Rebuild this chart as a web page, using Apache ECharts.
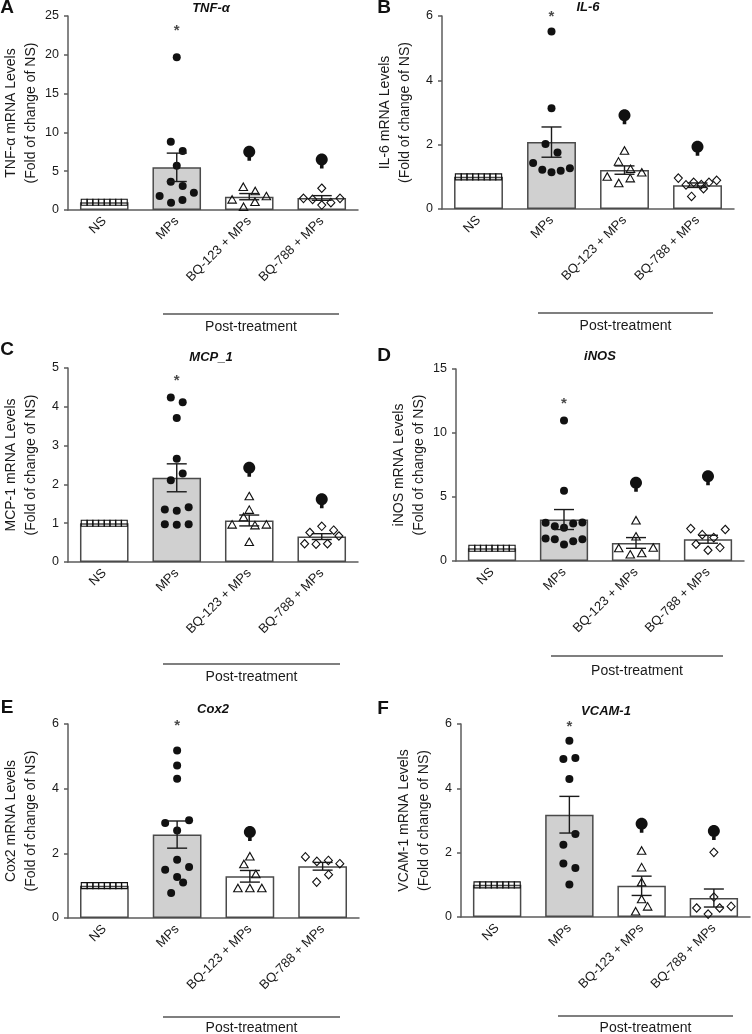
<!DOCTYPE html>
<html><head><meta charset="utf-8">
<script src="https://cdn.jsdelivr.net/npm/echarts@6/dist/echarts.min.js"></script>
<style>html,body{margin:0;padding:0;background:#fff}#c{width:752px;height:1034px}</style>
</head><body><div id="c"></div><script>
const categories = ['NS', 'MPs', 'BQ-123 + MPs', 'BQ-788 + MPs'];

// A: TNF-α
const tnfNS = [1, 1, 1, 1, 1, 1, 1, 1];
const tnfMPs = [19.7, 8.8, 7.6, 5.7, 3.65, 3.1, 1.8, 0.95, 1.29, 2.23];
const tnfBQ123 = [3.0, 2.45, 1.37, 0.43, 1.07, 1.8];
const tnfBQ788 = [2.8, 1.5, 1.37, 0.64, 0.95, 1.5];
const tnfMean = [1.0, 5.5, 1.72, 1.55];
const tnfSem = [0, 1.83, 0.4, 0.3];
const tnfSig = [null, null, 7.3, 6.3];
const tnfStar = 23.1;
const tnfTicks = [0, 25, 5];

// B: IL-6
const il6NS = [1, 1, 1, 1, 1, 1, 1, 1];
const il6MPs = [5.52, 3.13, 2.02, 1.76, 1.43, 1.22, 1.14, 1.19, 1.27];
const il6BQ123 = [1.82, 1.48, 1.25, 1.01, 0.81, 0.96, 1.14];
const il6BQ788 = [0.96, 0.75, 0.83, 0.76, 0.83, 0.89, 0.39, 0.63];
const il6Mean = [1.0, 2.08, 1.21, 0.74];
const il6Sem = [0, 0.47, 0.13, 0.07];
const il6Sig = [null, null, 2.87, 1.89];
const il6Star = 5.97;
const il6Ticks = [0, 6, 2];

// C: MCP-1
const mcpNS = [1, 1, 1, 1, 1, 1, 1, 1];
const mcpMPs = [4.24, 4.12, 3.71, 2.66, 2.11, 2.28, 1.35, 1.32, 1.41, 0.97, 0.96, 0.97];
const mcpBQ123 = [1.70, 1.35, 0.97, 1.16, 0.95, 0.97, 0.52];
const mcpBQ788 = [0.76, 0.92, 0.82, 0.47, 0.46, 0.47, 0.67];
const mcpMean = [1.0, 2.17, 1.07, 0.655];
const mcpSem = [0, 0.36, 0.14, 0.075];
const mcpSig = [null, null, 2.39, 1.58];
const mcpStar = 4.66;
const mcpTicks = [0, 5, 1];

// D: iNOS
const inosNS = [1, 1, 1, 1, 1, 1, 1, 1];
const inosMPs = [10.97, 5.49, 2.98, 2.72, 2.59, 2.93, 3.0, 1.75, 1.70, 1.28, 1.54, 1.70];
const inosBQ123 = [3.19, 1.93, 1.02, 0.52, 0.63, 1.05];
const inosBQ788 = [2.53, 2.06, 1.83, 2.46, 1.31, 0.84, 1.05];
const inosMean = [1.0, 3.24, 1.41, 1.7];
const inosSem = [0, 0.78, 0.42, 0.31];
const inosSig = [null, null, 6.0, 6.5];
const inosStar = 12.28;
const inosTicks = [0, 15, 5];

// E: Cox2
const coxNS = [1, 1, 1, 1, 1, 1, 1, 1];
const coxMPs = [5.18, 4.72, 4.31, 2.94, 2.71, 3.02, 1.80, 1.49, 1.27, 1.58, 0.77, 1.10];
const coxBQ123 = [1.91, 1.67, 1.36, 0.93, 0.93, 0.93];
const coxBQ788 = [1.89, 1.75, 1.78, 1.68, 1.11, 1.34];
const coxMean = [1.0, 2.58, 1.29, 1.6];
const coxSem = [0, 0.42, 0.18, 0.12];
const coxSig = [null, null, 2.61, null];
const coxStar = 5.93;
const coxTicks = [0, 6, 2];

// F: VCAM-1
const vcamNS = [1, 1, 1, 1, 1, 1, 1, 1];
const vcamMPs = [5.48, 4.91, 4.94, 4.29, 2.25, 2.58, 1.66, 1.52, 1.01];
const vcamBQ123 = [2.07, 1.55, 1.09, 0.56, 0.18, 0.33];
const vcamBQ788 = [2.01, 0.62, 0.28, 0.09, 0.28, 0.33];
const vcamMean = [1.0, 3.18, 0.97, 0.59];
const vcamSem = [0, 0.57, 0.30, 0.28];
const vcamSig = [null, null, 2.85, 2.63];
const vcamStar = 5.9;
const vcamTicks = [0, 6, 2];

const FONT = "'Liberation Sans', Arial, sans-serif";
const TXT = '#1a1a1a';
const AX = '#5c5c5c';

const panels = [
  {letter:'A', title:'TNF-α', yName:'TNF-α mRNA Levels', grid:{left:66, top:16, width:292, height:194},
   groups:[tnfNS, tnfMPs, tnfBQ123, tnfBQ788], mean:tnfMean, sem:tnfSem, sig:tnfSig, star:tnfStar, ticks:tnfTicks,
   letterPos:[7, 8], titlePos:[211, 8], post:{x1:163, x2:339, y:314, ty:327}},
  {letter:'B', title:'IL-6', yName:'IL-6 mRNA Levels', grid:{left:442, top:16, width:292, height:193},
   groups:[il6NS, il6MPs, il6BQ123, il6BQ788], mean:il6Mean, sem:il6Sem, sig:il6Sig, star:il6Star, ticks:il6Ticks,
   letterPos:[384, 8], titlePos:[588, 7], post:{x1:538, x2:713, y:313, ty:326}},
  {letter:'C', title:'MCP_1', yName:'MCP-1 mRNA Levels', grid:{left:66, top:368, width:292, height:194},
   groups:[mcpNS, mcpMPs, mcpBQ123, mcpBQ788], mean:mcpMean, sem:mcpSem, sig:mcpSig, star:mcpStar, ticks:mcpTicks,
   letterPos:[7, 350], titlePos:[211, 357], post:{x1:163, x2:340, y:664, ty:677}},
  {letter:'D', title:'iNOS', yName:'iNOS mRNA Levels', grid:{left:456, top:369, width:288, height:192},
   groups:[inosNS, inosMPs, inosBQ123, inosBQ788], mean:inosMean, sem:inosSem, sig:inosSig, star:inosStar, ticks:inosTicks,
   letterPos:[384, 356], titlePos:[600, 356], post:{x1:551, x2:723, y:656, ty:671}},
  {letter:'E', title:'Cox2', yName:'Cox2 mRNA Levels', grid:{left:67, top:724, width:292, height:194},
   groups:[coxNS, coxMPs, coxBQ123, coxBQ788], mean:coxMean, sem:coxSem, sig:coxSig, star:coxStar, ticks:coxTicks,
   letterPos:[7, 708], titlePos:[213, 709], post:{x1:163, x2:340, y:1017, ty:1028}},
  {letter:'F', title:'VCAM-1', yName:'VCAM-1 mRNA Levels', grid:{left:461, top:724, width:289, height:193},
   groups:[vcamNS, vcamMPs, vcamBQ123, vcamBQ788], mean:vcamMean, sem:vcamSem, sig:vcamSig, star:vcamStar, ticks:vcamTicks,
   letterPos:[383, 709], titlePos:[606, 711], post:{x1:558, x2:733, y:1016, ty:1028}}
];

// beeswarm-like row layout computed from values and axis scale
function swarm(values, pxPerUnit, catPx, idx) {
  const order = values.map((v, i) => i).sort((a, b) => values[a] - values[b] || a - b);
  const rows = []; let cur = null;
  order.forEach(i => {
    if (cur && (values[i] - values[cur[0]]) * pxPerUnit <= 11) cur.push(i);
    else { cur = [i]; rows.push(cur); }
  });
  const out = [];
  rows.forEach(r => {
    r.sort((a, b) => a - b);
    const n = r.length, step = Math.min(12, 46 / n);
    r.forEach((i, k) => out.push([idx + (k - (n - 1) / 2) * step / catPx, values[i]]));
  });
  return out;
}

function errRender(params, api) {
  const x = api.value(0), m = api.value(1), s = api.value(2);
  if (!s) return null;
  const top = api.coord([x, m + s]), bot = api.coord([x, m - s]);
  const cx = top[0], hw = 10;
  const style = {stroke: '#1a1a1a', lineWidth: 1.4};
  return {type: 'group', children: [
    {type: 'line', shape: {x1: cx, y1: top[1], x2: cx, y2: bot[1]}, style},
    {type: 'line', shape: {x1: cx - hw, y1: top[1], x2: cx + hw, y2: top[1]}, style},
    {type: 'line', shape: {x1: cx - hw, y1: bot[1], x2: cx + hw, y2: bot[1]}, style}
  ]};
}

const BULB = 'path://M6,0 C9.3,0 12,2.7 12,6 C12,9.3 9.3,12 6,12 C2.7,12 0,9.3 0,6 C0,2.7 2.7,0 6,0 Z M4.2,11 L7.8,11 L7.8,15 L4.2,15 Z';

const markers = [
  {symbol: 'rect', size: 6, fill: 'rgba(0,0,0,0)'},
  {symbol: 'circle', size: 8, fill: '#111'},
  {symbol: 'triangle', size: [8.5, 7.5], fill: 'rgba(0,0,0,0)'},
  {symbol: 'diamond', size: [8, 8.5], fill: 'rgba(0,0,0,0)'}
];

const grids = [], xAxes = [], yAxes = [], series = [], graphics = [];
panels.forEach((p, pi) => {
  grids.push(p.grid);
  xAxes.push({type: 'category', gridIndex: pi, data: categories,
    axisLine: {onZero: false, lineStyle: {color: AX, width: 1.5}},
    axisTick: {alignWithLabel: true, length: 5, lineStyle: {color: AX, width: 1.5}},
    axisLabel: {rotate: 45, fontSize: 13, color: TXT, fontFamily: FONT, margin: 9, interval: 0}});
  xAxes.push({type: 'value', gridIndex: pi, min: -0.5, max: 3.5, show: false});
  yAxes.push({type: 'value', gridIndex: pi, min: p.ticks[0], max: p.ticks[1], interval: p.ticks[2],
    name: p.yName + '\n(Fold of change of NS)', nameLocation: 'middle', nameGap: 27,
    nameTextStyle: {fontSize: 14, lineHeight: 20, color: TXT, fontFamily: FONT},
    axisLine: {show: true, onZero: false, lineStyle: {color: AX, width: 1.5}},
    axisTick: {show: true, length: 4, lineStyle: {color: AX, width: 1.5}},
    axisLabel: {fontSize: 12.5, color: TXT, fontFamily: FONT, margin: 9},
    splitLine: {show: false}});
  const xc = pi * 2, xv = pi * 2 + 1;
  series.push({type: 'bar', xAxisIndex: xc, yAxisIndex: pi, barWidth: '67%', z: 2,
    data: p.mean.map((m, i) => ({value: m, itemStyle: {color: i === 1 ? '#d0d0d0' : '#ffffff'}})),
    itemStyle: {borderColor: '#4a4a4a', borderWidth: 1.5}, emphasis: {disabled: true}});
  const pxPerUnit = p.grid.height / (p.ticks[1] - p.ticks[0]);
  const catPx = p.grid.width / 4;
  p.groups.forEach((vals, gi) => {
    const mk = markers[gi];
    series.push({type: 'scatter', xAxisIndex: xv, yAxisIndex: pi, z: 3,
      symbol: mk.symbol, symbolSize: mk.size,
      itemStyle: {color: mk.fill, borderColor: '#111', borderWidth: gi === 1 ? 0 : 1.1, opacity: 1},
      data: swarm(vals, pxPerUnit, catPx, gi), emphasis: {disabled: true}});
  });
  series.push({type: 'custom', xAxisIndex: xc, yAxisIndex: pi, z: 4, renderItem: errRender,
    data: p.mean.map((m, i) => [i, m, p.sem[i]])});
  series.push({type: 'scatter', xAxisIndex: xc, yAxisIndex: pi, z: 5, symbol: BULB, symbolSize: [12, 15],
    itemStyle: {color: '#111', opacity: 1}, emphasis: {disabled: true},
    data: p.sig.map((v, i) => v == null ? null : [i, v]).filter(d => d)});
  series.push({type: 'scatter', xAxisIndex: xc, yAxisIndex: pi, z: 5, symbolSize: 1,
    itemStyle: {color: 'rgba(0,0,0,0)'},
    label: {show: true, position: 'inside', formatter: '*', fontSize: 15, fontWeight: 'bold', color: TXT, fontFamily: FONT},
    data: [[1, p.star]]});
  graphics.push({type: 'text', x: p.letterPos[0], y: p.letterPos[1],
    style: {text: p.letter, font: 'bold 19px ' + FONT, fill: '#111', textAlign: 'center', textVerticalAlign: 'middle'}});
  graphics.push({type: 'text', x: p.titlePos[0], y: p.titlePos[1],
    style: {text: p.title, font: 'italic bold 13px ' + FONT, fill: '#111', textAlign: 'center', textVerticalAlign: 'middle'}});
  graphics.push({type: 'line', shape: {x1: p.post.x1, y1: p.post.y, x2: p.post.x2, y2: p.post.y},
    style: {stroke: '#555', lineWidth: 1.5}});
  graphics.push({type: 'text', x: (p.post.x1 + p.post.x2) / 2, y: p.post.ty,
    style: {text: 'Post-treatment', font: '14px ' + FONT, fill: TXT, textAlign: 'center', textVerticalAlign: 'middle'}});
});

const chart = echarts.init(document.getElementById('c'), null, {renderer: 'canvas'});
chart.setOption({
  animation: false,
  backgroundColor: '#fff',
  textStyle: {fontFamily: FONT},
  grid: grids, xAxis: xAxes, yAxis: yAxes, series: series, graphic: graphics
});
</script></body></html>
